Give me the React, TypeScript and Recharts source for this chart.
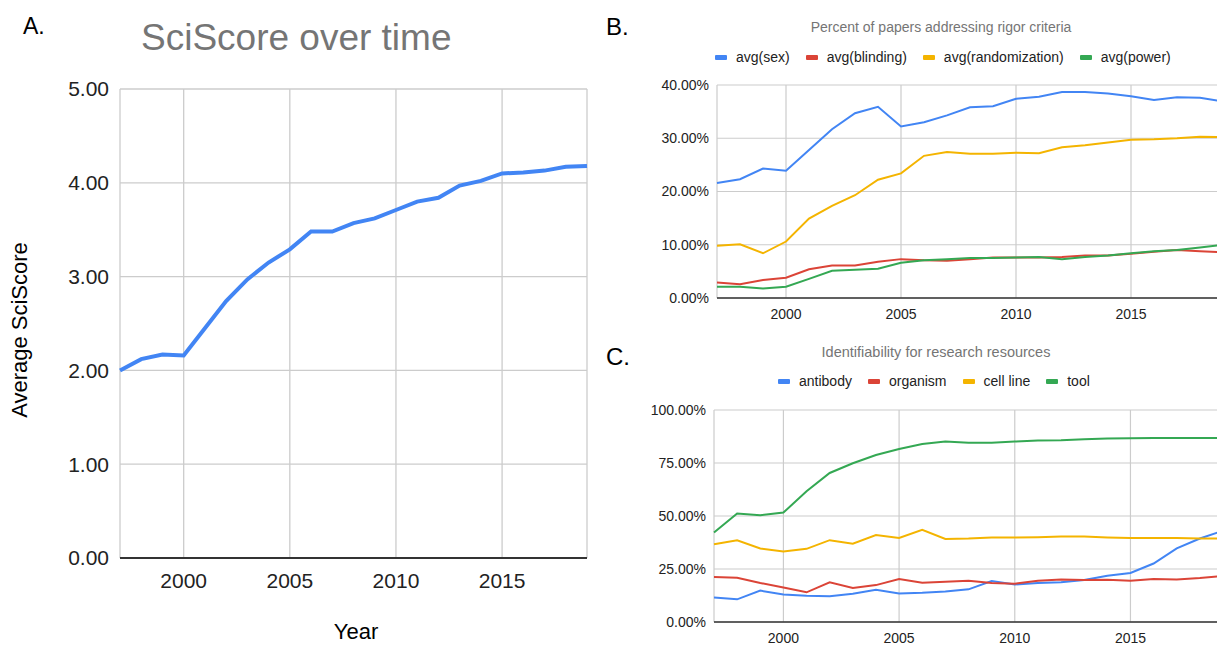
import { LineChart, Line, XAxis, YAxis, CartesianGrid } from "recharts"

const years = [1997, 1998, 1999, 2000, 2001, 2002, 2003, 2004, 2005, 2006, 2007, 2008, 2009, 2010, 2011, 2012, 2013, 2014, 2015, 2016, 2017, 2018, 2019]
const yearTicks = [2000, 2005, 2010, 2015]

// panel A
const sciScore = [2.0, 2.12, 2.17, 2.16, 2.45, 2.74, 2.97, 3.15, 3.29, 3.48, 3.48, 3.57, 3.62, 3.71, 3.8, 3.84, 3.97, 4.02, 4.1, 4.11, 4.13, 4.17, 4.18]
const scoreTicks = [0, 1, 2, 3, 4, 5]

// panel B (percent)
const sexPct = [21.6, 22.3, 24.3, 23.9, 27.8, 31.7, 34.7, 35.9, 32.2, 33.0, 34.3, 35.8, 36.0, 37.4, 37.8, 38.7, 38.7, 38.4, 37.9, 37.2, 37.7, 37.6, 36.9]
const blindingPct = [2.9, 2.6, 3.4, 3.8, 5.4, 6.1, 6.1, 6.8, 7.3, 7.1, 7.0, 7.3, 7.6, 7.6, 7.6, 7.7, 8.0, 8.0, 8.3, 8.7, 9.0, 8.8, 8.6]
const randomizationPct = [9.8, 10.1, 8.4, 10.6, 14.9, 17.3, 19.3, 22.2, 23.4, 26.7, 27.4, 27.1, 27.1, 27.3, 27.2, 28.3, 28.7, 29.2, 29.7, 29.8, 30.0, 30.3, 30.2]
const powerPct = [2.1, 2.1, 1.8, 2.1, 3.6, 5.1, 5.3, 5.5, 6.6, 7.1, 7.3, 7.5, 7.5, 7.6, 7.7, 7.3, 7.7, 8.0, 8.4, 8.8, 9.0, 9.5, 10.0]
const rigorTicks = [0, 10, 20, 30, 40]

// panel C (percent)
const antibodyPct = [11.5, 10.7, 14.8, 13.0, 12.4, 12.2, 13.3, 15.2, 13.5, 13.8, 14.4, 15.4, 19.3, 17.7, 18.4, 18.7, 19.8, 21.8, 23.1, 27.6, 34.7, 39.4, 43.0]
const organismPct = [21.2, 20.9, 18.4, 16.3, 14.0, 18.7, 16.0, 17.4, 20.3, 18.5, 19.0, 19.5, 18.4, 18.1, 19.5, 20.1, 19.8, 19.9, 19.5, 20.3, 20.1, 20.7, 21.7]
const cellLinePct = [36.7, 38.5, 34.7, 33.3, 34.5, 38.6, 36.9, 41.0, 39.6, 43.5, 39.2, 39.4, 39.9, 39.9, 40.0, 40.3, 40.3, 39.9, 39.6, 39.6, 39.6, 39.4, 39.4]
const toolPct = [42.2, 51.2, 50.4, 51.6, 61.7, 70.3, 74.9, 78.8, 81.6, 84.0, 85.1, 84.6, 84.6, 85.1, 85.6, 85.7, 86.2, 86.5, 86.7, 86.8, 86.8, 86.8, 86.8]
const resourceTicks = [0, 25, 50, 75, 100]

const BLUE = "#4285f4"
const RED = "#db4437"
const YELLOW = "#f4b400"
const GREEN = "#34a853"
const FONT = '"Liberation Sans", Arial, sans-serif'

const dataA = years.map((year, i) => ({ year, score: sciScore[i] }))
const dataB = years.map((year, i) => ({
  year,
  sex: sexPct[i],
  blinding: blindingPct[i],
  randomization: randomizationPct[i],
  power: powerPct[i],
}))
const dataC = years.map((year, i) => ({
  year,
  antibody: antibodyPct[i],
  organism: organismPct[i],
  cellLine: cellLinePct[i],
  tool: toolPct[i],
}))

function Txt({ x, baseline, size, color = "#000", center = false, children }: any) {
  return (
    <div
      style={{
        position: "absolute",
        left: x,
        top: baseline - 0.85 * size,
        fontSize: size,
        lineHeight: 1,
        color,
        whiteSpace: "nowrap",
        transform: center ? "translateX(-50%)" : undefined,
      }}
    >
      {children}
    </div>
  )
}

function LegendRow({ left, cy, items }: { left: number; cy: number; items: [string, string][] }) {
  return (
    <div
      style={{
        position: "absolute",
        left,
        top: cy - 8,
        height: 16,
        display: "flex",
        alignItems: "center",
        gap: 16,
        fontSize: 14,
        lineHeight: 1,
        color: "#222",
        whiteSpace: "nowrap",
      }}
    >
      {items.map(([label, color]) => (
        <div key={label} style={{ display: "flex", alignItems: "center" }}>
          <span style={{ display: "inline-block", width: 12, height: 5, background: color, borderRadius: 1, marginRight: 9 }} />
          <span>{label}</span>
        </div>
      ))}
    </div>
  )
}

export default function App() {
  const smallTick = { fontSize: 14, fill: "#222", fontFamily: FONT }
  return (
    <div
      style={{
        position: "absolute",
        left: 0,
        top: 0,
        width: 1217,
        height: 645,
        overflow: "hidden",
        background: "#fff",
        fontFamily: FONT,
      }}
    >
      {/* A */}
      <div style={{ position: "absolute", left: 0, top: 0 }}>
        <LineChart width={600} height={645} data={dataA} margin={{ top: 89, right: 13, left: 0, bottom: 0 }}>
          <CartesianGrid stroke="#cccccc" strokeWidth={1.3} />
          <XAxis
            dataKey="year"
            type="number"
            domain={[1997, 2019]}
            ticks={yearTicks}
            interval={0}
            height={87}
            tickSize={0}
            tickMargin={15}
            tickLine={false}
            axisLine={{ stroke: "#333", strokeWidth: 2 }}
            tick={{ fontSize: 21, fill: "#222", fontFamily: FONT }}
          />
          <YAxis
            type="number"
            domain={[0, 5]}
            ticks={scoreTicks}
            interval={0}
            width={120}
            tickSize={0}
            tickMargin={11}
            tickLine={false}
            axisLine={false}
            tickFormatter={(v: number) => v.toFixed(2)}
            tick={{ fontSize: 21, fill: "#222", fontFamily: FONT }}
          />
          <Line dataKey="score" stroke={BLUE} strokeWidth={4} dot={false} isAnimationActive={false} />
        </LineChart>
      </div>
      <Txt x={23} baseline={35} size={23}>A.</Txt>
      <Txt x={141} baseline={50} size={37} color="#757575">SciScore over time</Txt>
      <div
        style={{
          position: "absolute",
          left: 20,
          top: 330,
          fontSize: 22,
          lineHeight: 1,
          whiteSpace: "nowrap",
          transform: "translate(-50%, -50%) rotate(-90deg)",
        }}
      >
        Average SciScore
      </div>
      <Txt x={356} baseline={640} size={22} center>Year</Txt>

      {/* B */}
      <div style={{ position: "absolute", left: 600, top: 0 }}>
        <LineChart width={630} height={330} data={dataB} margin={{ top: 85, right: 7, left: 0, bottom: 0 }}>
          <CartesianGrid stroke="#cccccc" strokeWidth={1.2} />
          <XAxis
            dataKey="year"
            type="number"
            domain={[1997, 2019]}
            ticks={yearTicks}
            interval={0}
            height={32}
            tickSize={0}
            tickMargin={11}
            tickLine={false}
            axisLine={{ stroke: "#333", strokeWidth: 1.5 }}
            tick={smallTick}
          />
          <YAxis
            type="number"
            domain={[0, 40]}
            ticks={rigorTicks}
            interval={0}
            width={117}
            tickSize={0}
            tickMargin={8}
            tickLine={false}
            axisLine={false}
            tickFormatter={(v: number) => v.toFixed(2) + "%"}
            tick={smallTick}
          />
          <Line dataKey="sex" stroke={BLUE} strokeWidth={2} dot={false} isAnimationActive={false} />
          <Line dataKey="blinding" stroke={RED} strokeWidth={2} dot={false} isAnimationActive={false} />
          <Line dataKey="randomization" stroke={YELLOW} strokeWidth={2} dot={false} isAnimationActive={false} />
          <Line dataKey="power" stroke={GREEN} strokeWidth={2} dot={false} isAnimationActive={false} />
        </LineChart>
      </div>
      <Txt x={606} baseline={35} size={24}>B.</Txt>
      <Txt x={941} baseline={32} size={14} color="#757575" center>Percent of papers addressing rigor criteria</Txt>
      <LegendRow
        left={715}
        cy={57}
        items={[
          ["avg(sex)", BLUE],
          ["avg(blinding)", RED],
          ["avg(randomization)", YELLOW],
          ["avg(power)", GREEN],
        ]}
      />

      {/* C */}
      <div style={{ position: "absolute", left: 600, top: 330 }}>
        <LineChart width={630} height={315} data={dataC} margin={{ top: 80, right: 7, left: 0, bottom: 0 }}>
          <CartesianGrid stroke="#cccccc" strokeWidth={1.2} />
          <XAxis
            dataKey="year"
            type="number"
            domain={[1997, 2019]}
            ticks={yearTicks}
            interval={0}
            height={23}
            tickSize={0}
            tickMargin={11}
            tickLine={false}
            axisLine={{ stroke: "#333", strokeWidth: 1.5 }}
            tick={smallTick}
          />
          <YAxis
            type="number"
            domain={[0, 100]}
            ticks={resourceTicks}
            interval={0}
            width={114}
            tickSize={0}
            tickMargin={8}
            tickLine={false}
            axisLine={false}
            tickFormatter={(v: number) => v.toFixed(2) + "%"}
            tick={smallTick}
          />
          <Line dataKey="antibody" stroke={BLUE} strokeWidth={2} dot={false} isAnimationActive={false} />
          <Line dataKey="organism" stroke={RED} strokeWidth={2} dot={false} isAnimationActive={false} />
          <Line dataKey="cellLine" stroke={YELLOW} strokeWidth={2} dot={false} isAnimationActive={false} />
          <Line dataKey="tool" stroke={GREEN} strokeWidth={2} dot={false} isAnimationActive={false} />
        </LineChart>
      </div>
      <Txt x={606} baseline={365} size={24}>C.</Txt>
      <Txt x={936} baseline={357} size={14.5} color="#757575" center>Identifiability for research resources</Txt>
      <LegendRow
        left={778}
        cy={381}
        items={[
          ["antibody", BLUE],
          ["organism", RED],
          ["cell line", YELLOW],
          ["tool", GREEN],
        ]}
      />
    </div>
  )
}
